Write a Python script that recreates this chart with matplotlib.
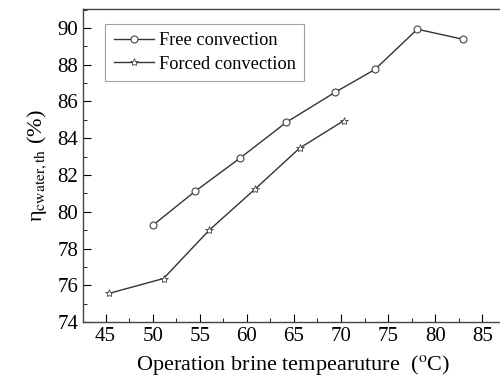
import matplotlib
matplotlib.use('Agg')
import matplotlib.pyplot as plt
from matplotlib.ticker import MultipleLocator

plt.rcParams['font.family'] = 'Liberation Serif'
plt.rcParams['mathtext.fontset'] = 'stix'

free_temp = [50.0, 54.5, 59.3, 64.2, 69.4, 73.6, 78.1, 82.9]
free_eff = [79.26, 81.11, 82.93, 84.87, 86.51, 87.74, 89.93, 89.39]

forced_temp = [45.35, 51.15, 56.0, 60.9, 65.6, 70.3]
forced_eff = [75.56, 76.37, 79.0, 81.25, 83.46, 84.96]

fig = plt.figure(figsize=(5, 3.83), dpi=100)
ax = fig.add_axes([0.166, 0.159, 0.84, 0.8175])

ax.plot(free_temp, free_eff, color='#333333', lw=1.0, marker='o', ms=5,
        mfc='white', mec='#444444', mew=0.8, label='Free convection')
ax.plot(forced_temp, forced_eff, color='#333333', lw=1.0, marker='*', ms=6,
        mfc='white', mec='#444444', mew=0.6, label='Forced convection')

ax.set_xlim(42.6, 87.2)
ax.set_ylim(74, 91.03)
ax.set_yticks(range(74, 91, 2))
ax.set_xticks(range(45, 86, 5))
ax.xaxis.set_minor_locator(MultipleLocator(2.5))
ax.yaxis.set_minor_locator(MultipleLocator(1))
ax.tick_params(which='both', direction='in', labelsize=15, top=False, right=False)
ax.tick_params(which='major', length=6)
ax.tick_params(which='minor', length=3)

for s in ax.spines.values():
    s.set_color('#444444')
    s.set_linewidth(1.0)
ax.spines['right'].set_visible(False)

ax.set_xlabel('Operation brine tempearuture  ($^{\\rm o}$C)', fontsize=16, labelpad=5)
ax.set_ylabel('η$_{\\rm cwater,th}$ (%)', fontsize=16, labelpad=6)

leg = ax.legend(loc='upper left', bbox_to_anchor=(0.053, 0.952), borderaxespad=0,
                fontsize=13.2, fancybox=False, edgecolor='#888888',
                handlelength=2.2, handletextpad=0.3, borderpad=0.45, labelspacing=0.35)
leg.get_frame().set_linewidth(0.8)

fig.savefig('out.png', dpi=100)
